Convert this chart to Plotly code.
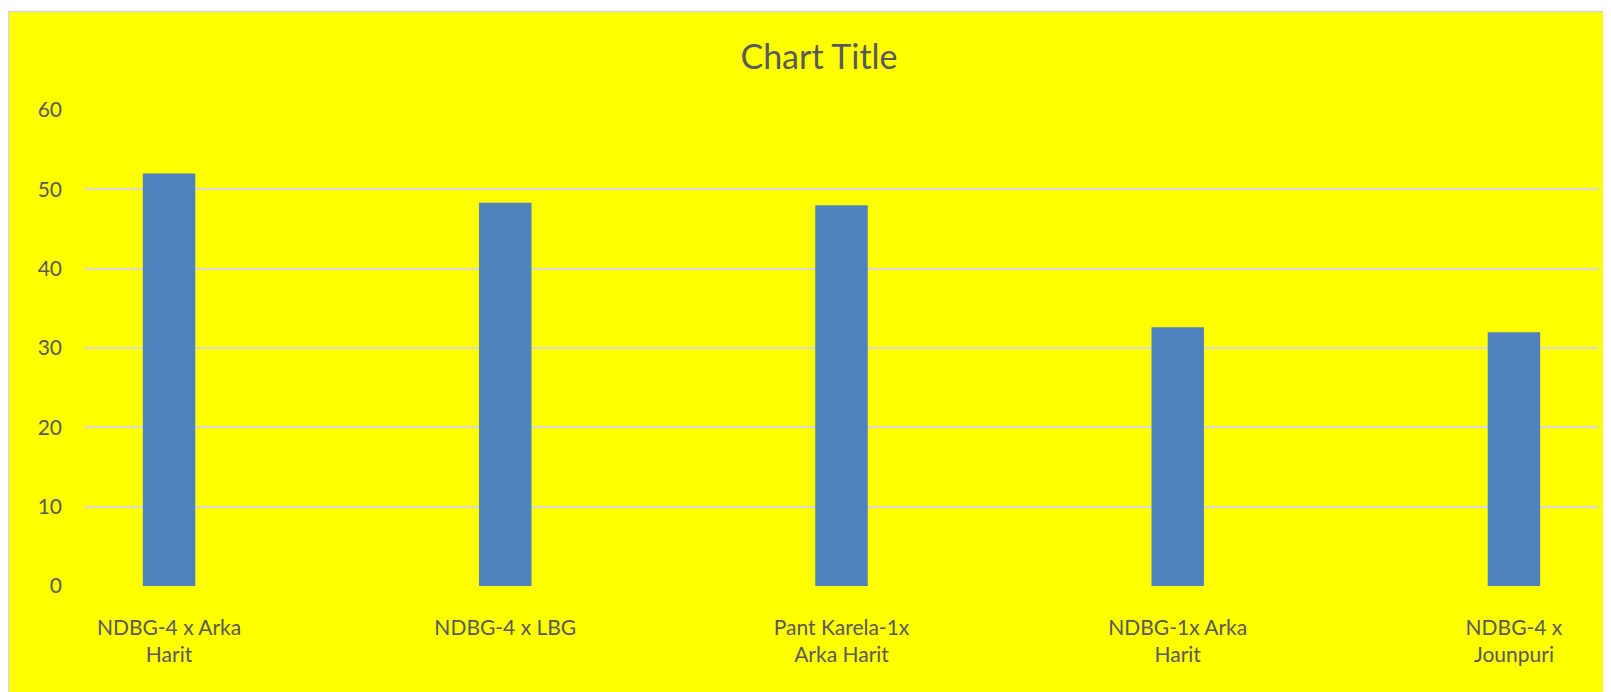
import plotly.graph_objects as go

categories = ["NDBG-4 x Arka<br>Harit", "NDBG-4 x LBG", "Pant Karela-1x<br>Arka Harit",
              "NDBG-1x Arka<br>Harit", "NDBG-4 x<br>Jounpuri"]
values = [52.0, 48.3, 48.0, 32.6, 32.0]
y_ticks = [0, 10, 20, 30, 40, 50, 60]

# page body adds an 8px offset; figure is sized to fill the rest of the window
OFF = 8
W, H = 1611 - OFF, 692 - OFF
L, R, T, B = 85 - OFF, 13, 110 - OFF, 106
pw, ph = W - L - R, H - T - B

def px_x(p):
    return (p - L) / pw

def px_y(p):
    return (H - B - p) / ph

FONT = "Lato"
TXT = "#595959"

fig = go.Figure(go.Bar(
    x=list(range(len(categories))), y=values,
    marker=dict(color="#4F81BD", line=dict(width=0)),
    width=0.156,
))

fig.update_layout(
    width=W, height=H,
    margin=dict(l=L, r=R, t=T, b=B, pad=0),
    paper_bgcolor="white",
    plot_bgcolor="rgba(0,0,0,0)",
    showlegend=False,
    title=dict(text="Chart Title", x=(819 - OFF) / W, xanchor="center",
               y=1 - (57 - OFF) / H, yanchor="middle",
               yref="container", xref="container",
               font=dict(family=FONT, size=34, color=TXT)),
    font=dict(family=FONT, color=TXT),
    shapes=[dict(type="rect", xref="paper", yref="paper", layer="below",
                 x0=px_x(0.5), x1=px_x(W + 5), y0=px_y(H + 5), y1=px_y(3.5),
                 fillcolor="#FFFF00", line=dict(color="#D9D9D9", width=1.5))],
)
fig.update_xaxes(
    tickmode="array", tickvals=list(range(len(categories))), ticktext=categories,
    range=[-0.25, 4.25], showgrid=False, zeroline=False, showline=False,
    ticks="", ticklabelstandoff=27,
    tickfont=dict(family=FONT, size=21, color=TXT),
)
fig.update_yaxes(
    range=[0, 60], tickmode="array", tickvals=y_ticks,
    showgrid=True, gridcolor="#D9D9D9", gridwidth=1.5,
    zeroline=False, showline=False, ticks="", ticklabelstandoff=22,
    tickfont=dict(family=FONT, size=21, color=TXT),
)

fig.write_html("out.html")
